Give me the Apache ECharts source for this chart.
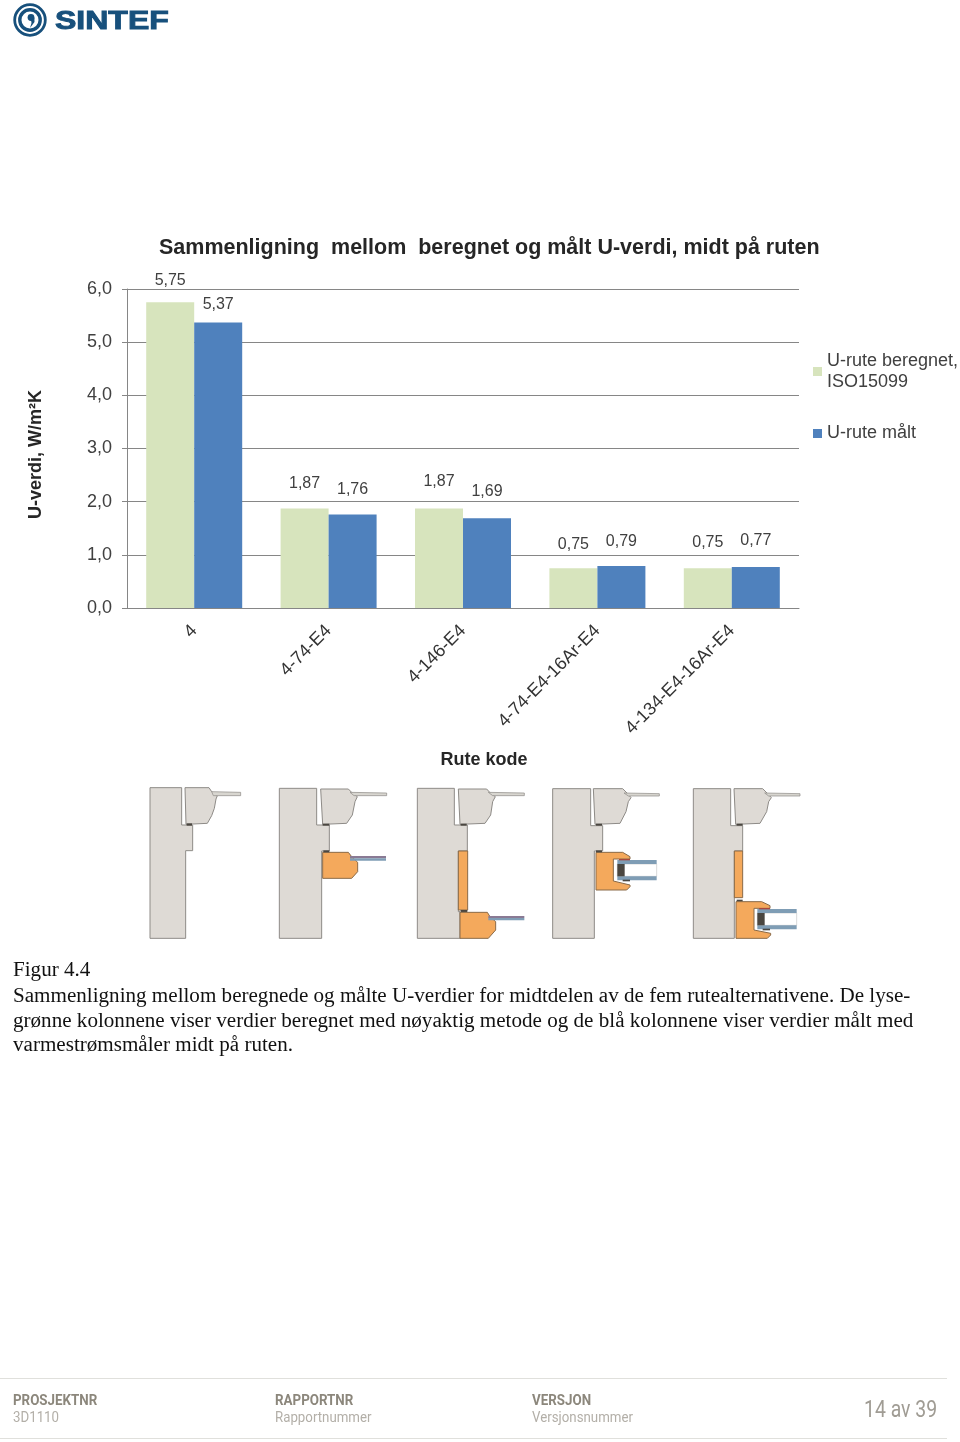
<!DOCTYPE html>
<html><head><meta charset="utf-8">
<style>html,body{margin:0;padding:0;background:#fff}#c{width:960px;height:1442px}</style>
<script src="https://cdn.jsdelivr.net/npm/echarts@6/dist/echarts.min.js"></script>
</head><body><div id="c"></div>
<script>
const categories = ['4','4-74-E4','4-146-E4','4-74-E4-16Ar-E4','4-134-E4-16Ar-E4'];
const beregnet = [5.75,1.87,1.87,0.75,0.75];
const maalt = [5.37,1.76,1.69,0.79,0.77];
const beregnetName = 'U-rute beregnet, ISO15099';
const maaltName = 'U-rute målt';
const chartTitle = 'Sammenligning  mellom  beregnet og målt U-verdi, midt på ruten';
const yName = 'U-verdi, W/m²K';
const xName = 'Rute kode';
const caption = ['Figur 4.4',
 'Sammenligning mellom beregnede og målte U-verdier for midtdelen av de fem rutealternativene. De lyse-',
 'grønne kolonnene viser verdier beregnet med nøyaktig metode og de blå kolonnene viser verdier målt med',
 'varmestrømsmåler midt på ruten.'];
// label distance above each bar, as in the original hand-placed labels
const liftA = [14,17,19,16,18];
const liftB = [10,17,19,16,18];

const WALL='#dedad5', EDGE='#8e8b87', ORANGE='#f4a95c', OEDGE='#8a6a48', BLUE='#7f9db5', DARK='#4a4640', GLASS='#d8d6d0';
const deco=[];
function poly(ox,pts,fill,stroke,lw){
  deco.push({type:'polygon',silent:true,shape:{points:pts.map(p=>[ox+p[0]/3,775+p[1]/3])},
    style:{fill:fill,stroke:stroke||null,lineWidth:lw==null?1:lw}});
}
function rect(ox,a,b,c,d,fill){poly(ox,[[a,b],[c,b],[c,d],[a,d]],fill,null,0);}
const A=130,B=530;
// drawing 1
poly(A,[[60,38],[155,38],[155,150],[188,150],[188,227],[167,227],[167,490],[60,490]],WALL,EDGE);
poly(A,[[165,38],[237,38],[245,50],[262,62],[258,72],[253,100],[245,122],[232,145],[168,148]],WALL,EDGE);
poly(A,[[245,50],[332,52],[332,62],[250,62]],GLASS,EDGE,0.7);
rect(A,170,145,186,152,DARK);
// drawing 2
poly(A,[[448,40],[560,40],[560,150],[598,150],[598,228],[575,228],[575,490],[448,490]],WALL,EDGE);
poly(A,[[572,42],[655,42],[668,55],[682,65],[675,80],[667,120],[650,145],[578,148]],WALL,EDGE);
poly(A,[[660,52],[770,54],[770,62],[672,62]],GLASS,EDGE,0.7);
rect(A,578,146,598,152,DARK);
poly(A,[[578,232],[655,232],[665,245],[683,262],[683,290],[665,310],[578,310]],ORANGE,OEDGE);
rect(A,580,226,598,232,DARK);
rect(A,660,243,768,250,'#8a7a94');rect(A,660,250,768,257,BLUE);
// drawing 3
poly(A,[[862,40],[973,40],[973,150],[1012,150],[1012,228],[985,228],[985,410],[990,410],[990,490],[862,490]],WALL,EDGE);
poly(A,[[985,42],[1070,42],[1082,55],[1096,65],[1088,80],[1082,120],[1065,145],[990,148]],WALL,EDGE);
poly(A,[[1075,52],[1183,54],[1183,62],[1088,62]],GLASS,EDGE,0.7);
rect(A,992,146,1010,152,DARK);
poly(A,[[985,228],[1013,228],[1013,405],[985,405]],ORANGE,OEDGE);
rect(A,992,405,1012,412,DARK);
poly(A,[[990,412],[1072,412],[1080,425],[1097,440],[1097,465],[1075,490],[990,490]],ORANGE,OEDGE);
rect(A,1075,423,1183,429,'#8a7a94');rect(A,1075,429,1183,436,BLUE);
function dbl(ox,top,l,r){
  poly(ox,[[l,top+12],[r,top+12],[r,top+49],[l,top+49]],'#fff','#c9c9c9',0.7);
  rect(ox,l,top,r,top+12,BLUE);
  rect(ox,l,top+49,r,top+61,BLUE);
  rect(ox,l+5,top-3,l+38,top+1,'#a8483f');
  rect(ox,l,top+12,l+22,top+49,DARK);
  rect(ox,l+16,top+59,l+38,top+64,DARK);
}
// drawing 4
poly(B,[[68,41],[182,41],[182,152],[218,152],[218,228],[193,228],[193,490],[68,490]],WALL,EDGE);
poly(B,[[190,41],[278,41],[292,55],[303,68],[295,80],[288,110],[270,145],[195,148]],WALL,EDGE);
poly(B,[[282,54],[388,56],[388,63],[295,63]],GLASS,EDGE,0.7);
rect(B,198,146,216,152,DARK);
poly(B,[[198,232],[278,232],[300,245],[300,252],[250,252],[250,318],[300,330],[300,335],[290,345],[198,345]],ORANGE,OEDGE);
rect(B,198,226,216,232,DARK);
dbl(B,255,262,380);
// drawing 5
poly(B,[[490,41],[602,41],[602,152],[638,152],[638,228],[613,228],[613,490],[490,490]],WALL,EDGE);
poly(B,[[612,41],[698,41],[712,55],[724,68],[716,80],[710,110],[690,145],[617,148]],WALL,EDGE);
poly(B,[[704,54],[810,56],[810,63],[716,63]],GLASS,EDGE,0.7);
rect(B,620,146,638,152,DARK);
poly(B,[[613,228],[638,228],[638,368],[613,368]],ORANGE,OEDGE);
rect(B,620,374,638,380,DARK);
poly(B,[[618,380],[695,380],[720,392],[720,400],[672,400],[672,465],[722,475],[722,480],[712,490],[618,490]],ORANGE,OEDGE);
dbl(B,402,682,800);

// logo
const NAVY='#17507c';
deco.push({type:'circle',silent:true,shape:{cx:30,cy:20,r:15.3},style:{fill:'none',stroke:NAVY,lineWidth:2.8}});
deco.push({type:'circle',silent:true,shape:{cx:30,cy:20,r:10.2},style:{fill:'none',stroke:NAVY,lineWidth:3.4}});
deco.push({type:'circle',silent:true,shape:{cx:31,cy:17.5,r:3.4},style:{fill:NAVY}});
deco.push({type:'polygon',silent:true,shape:{points:[[34.4,17.5],[34.5,22],[30,28],[31.5,23],[31,20]]},style:{fill:NAVY}});
deco.push({type:'text',silent:true,x:55,y:22.5,scaleX:1.28,style:{text:'SINTEF',font:'bold 25px "Liberation Sans"',fill:NAVY,stroke:NAVY,lineWidth:0.9,verticalAlign:'middle'}});

// caption
[970,996,1021,1045].forEach((y,i)=>deco.push({type:'text',silent:true,x:13,y:y,
  style:{text:caption[i],font:'21.1px "Liberation Serif"',fill:'#111',verticalAlign:'middle'}}));

// footer
[1378,1438].forEach(y=>deco.push({type:'rect',silent:true,shape:{x:0,y:y,width:947,height:1},style:{fill:'#e0e0dc'}}));
function foot(x,y,t,font,fill,sx){deco.push({type:'text',silent:true,x:x,y:y,scaleX:sx,style:{text:t,font:font,fill:fill,verticalAlign:'middle'}});}
const FN='Roboto';
[[13,'PROSJEKTNR','3D1110'],[275,'RAPPORTNR','Rapportnummer'],[532,'VERSJON','Versjonsnummer']].forEach(r=>{
  foot(r[0],1401,r[1],'bold 15px '+FN,'#8c877c',0.89);
  foot(r[0],1418,r[2],'15px '+FN,'#b3afa8',0.885);
});
foot(864,1411,'14 av 39','24px '+FN,'#a09c94',0.81);

const chart=echarts.init(document.getElementById('c'),null,{width:960,height:1442,renderer:'canvas'});
const lab=(v)=>v.toFixed(2).replace('.',',');
const mk=(vals,lift)=>vals.map((v,i)=>({value:v,label:{distance:lift[i]}}));
chart.setOption({
  animation:false,backgroundColor:'#fff',
  title:{text:chartTitle,left:159,top:237,padding:0,textStyle:{fontFamily:'Liberation Sans',fontSize:21.5,fontWeight:'bold',color:'#262626'}},
  legend:{orient:'vertical',left:813,top:340,padding:0,itemWidth:9,itemHeight:9,itemGap:20,selectedMode:false,
    icon:'rect',
    data:[{name:beregnetName,textStyle:{padding:[21,0,0,0]}},{name:maaltName}],
    formatter:n=>n===beregnetName?'U-rute beregnet,\nISO15099':n,
    textStyle:{fontFamily:'Liberation Sans',fontSize:18,lineHeight:21,color:'#404040'}},
  grid:{left:127,top:289,width:672,height:319,outerBoundsMode:'none'},
  xAxis:{type:'category',data:categories,
    name:xName,nameLocation:'middle',nameGap:143,
    nameTextStyle:{fontFamily:'Liberation Sans',fontSize:18,fontWeight:'bold',color:'#262626',padding:[0,0,0,42]},
    axisLine:{lineStyle:{color:'#868686',width:1}},axisTick:{show:false},
    axisLabel:{interval:0,rotate:45,margin:20,fontFamily:'Liberation Sans',fontSize:18,color:'#333'}},
  yAxis:{type:'value',min:0,max:6,interval:1,
    name:yName,nameLocation:'middle',nameGap:82,
    nameTextStyle:{fontFamily:'Liberation Sans',fontSize:18,fontWeight:'bold',color:'#262626',padding:[0,12,0,0]},
    axisLine:{show:true,lineStyle:{color:'#868686',width:1}},
    axisTick:{show:true,length:5,lineStyle:{color:'#868686'}},
    splitLine:{show:true,lineStyle:{color:'#868686',width:1}},
    axisLabel:{margin:15,fontFamily:'Liberation Sans',fontSize:18,color:'#404040',formatter:v=>v.toFixed(1).replace('.',',')}},
  series:[
    {name:beregnetName,type:'bar',data:mk(beregnet,liftA),barWidth:48,barGap:0,itemStyle:{color:'#d7e4bd'},
     label:{show:true,position:'top',fontFamily:'Liberation Sans',fontSize:16,color:'#404040',formatter:p=>lab(p.value)}},
    {name:maaltName,type:'bar',data:mk(maalt,liftB),barWidth:48,barGap:0,itemStyle:{color:'#4f81bd'},
     label:{show:true,position:'top',fontFamily:'Liberation Sans',fontSize:16,color:'#404040',formatter:p=>lab(p.value)}}
  ],
  graphic:deco
});
</script></body></html>
